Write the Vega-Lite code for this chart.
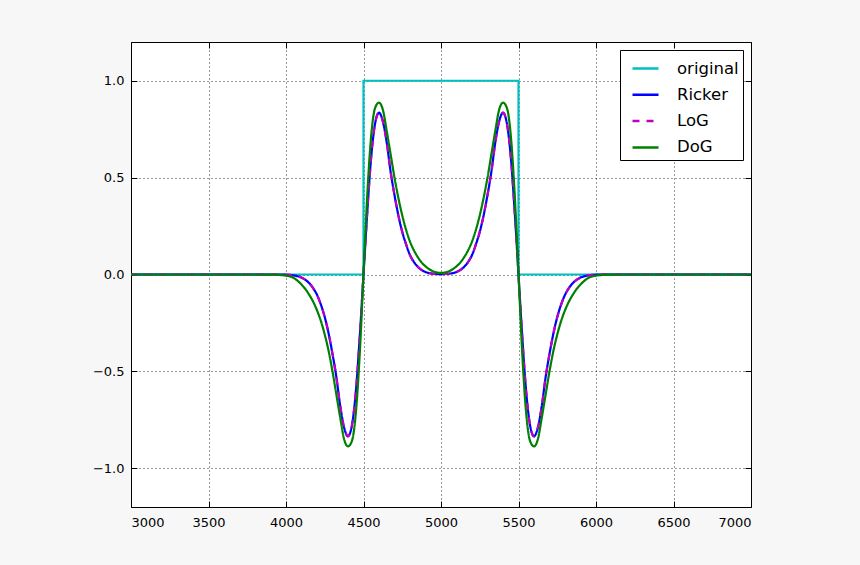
{
  "$schema": "https://vega.github.io/schema/vega-lite/v6.json",
  "width": 620,
  "height": 465,
  "autosize": {"type": "none"},
  "padding": {"left": 131, "top": 42, "right": 109, "bottom": 58},
  "background": "#f7f7f7",
  "config": {
    "view": {"stroke": "black", "strokeWidth": 1, "fill": "white"},
    "font": "DejaVu Sans",
    "axis": {"labelFont": "DejaVu Sans", "labelFontSize": 13, "labelColor": "black", "tickColor": "black", "domain": false, "title": null}
  },
  "datasets": {
    "orig": [
      {"s": "original", "x": 3000, "y": 0, "i": 1},
      {"s": "original", "x": 4500, "y": 0, "i": 2},
      {"s": "original", "x": 4500, "y": 1, "i": 3},
      {"s": "original", "x": 5500, "y": 1, "i": 4},
      {"s": "original", "x": 5500, "y": 0, "i": 5},
      {"s": "original", "x": 7000, "y": 0, "i": 6}
    ],
    "curves": [
      {"s": "Ricker", "x": 3000, "y": 0}, {"s": "Ricker", "x": 3900, "y": 0}, {"s": "Ricker", "x": 4000, "y": -0.001}, {"s": "Ricker", "x": 4050, "y": -0.005}, {"s": "Ricker", "x": 4100, "y": -0.016}, {"s": "Ricker", "x": 4150, "y": -0.045}, {"s": "Ricker", "x": 4175, "y": -0.07}, {"s": "Ricker", "x": 4200, "y": -0.105}, {"s": "Ricker", "x": 4225, "y": -0.155}, {"s": "Ricker", "x": 4250, "y": -0.22}, {"s": "Ricker", "x": 4275, "y": -0.305}, {"s": "Ricker", "x": 4300, "y": -0.41}, {"s": "Ricker", "x": 4325, "y": -0.53}, {"s": "Ricker", "x": 4350, "y": -0.68}, {"s": "Ricker", "x": 4375, "y": -0.79}, {"s": "Ricker", "x": 4400, "y": -0.835}, {"s": "Ricker", "x": 4425, "y": -0.78}, {"s": "Ricker", "x": 4450, "y": -0.61}, {"s": "Ricker", "x": 4475, "y": -0.33}, {"s": "Ricker", "x": 4500, "y": 0}, {"s": "Ricker", "x": 4525, "y": 0.33}, {"s": "Ricker", "x": 4550, "y": 0.61}, {"s": "Ricker", "x": 4575, "y": 0.78}, {"s": "Ricker", "x": 4600, "y": 0.835}, {"s": "Ricker", "x": 4625, "y": 0.79}, {"s": "Ricker", "x": 4650, "y": 0.68}, {"s": "Ricker", "x": 4675, "y": 0.53}, {"s": "Ricker", "x": 4700, "y": 0.41}, {"s": "Ricker", "x": 4725, "y": 0.305}, {"s": "Ricker", "x": 4750, "y": 0.22}, {"s": "Ricker", "x": 4775, "y": 0.155}, {"s": "Ricker", "x": 4800, "y": 0.1}, {"s": "Ricker", "x": 4825, "y": 0.065}, {"s": "Ricker", "x": 4850, "y": 0.04}, {"s": "Ricker", "x": 4900, "y": 0.013}, {"s": "Ricker", "x": 4950, "y": 0.004}, {"s": "Ricker", "x": 5000, "y": 0.002}, {"s": "Ricker", "x": 5050, "y": 0.004}, {"s": "Ricker", "x": 5100, "y": 0.013}, {"s": "Ricker", "x": 5150, "y": 0.04}, {"s": "Ricker", "x": 5175, "y": 0.065}, {"s": "Ricker", "x": 5200, "y": 0.1}, {"s": "Ricker", "x": 5225, "y": 0.155}, {"s": "Ricker", "x": 5250, "y": 0.22}, {"s": "Ricker", "x": 5275, "y": 0.305}, {"s": "Ricker", "x": 5300, "y": 0.41}, {"s": "Ricker", "x": 5325, "y": 0.53}, {"s": "Ricker", "x": 5350, "y": 0.68}, {"s": "Ricker", "x": 5375, "y": 0.79}, {"s": "Ricker", "x": 5400, "y": 0.835}, {"s": "Ricker", "x": 5425, "y": 0.78}, {"s": "Ricker", "x": 5450, "y": 0.61}, {"s": "Ricker", "x": 5475, "y": 0.33}, {"s": "Ricker", "x": 5500, "y": 0}, {"s": "Ricker", "x": 5525, "y": -0.33}, {"s": "Ricker", "x": 5550, "y": -0.61}, {"s": "Ricker", "x": 5575, "y": -0.78}, {"s": "Ricker", "x": 5600, "y": -0.835}, {"s": "Ricker", "x": 5625, "y": -0.79}, {"s": "Ricker", "x": 5650, "y": -0.68}, {"s": "Ricker", "x": 5675, "y": -0.53}, {"s": "Ricker", "x": 5700, "y": -0.41}, {"s": "Ricker", "x": 5725, "y": -0.305}, {"s": "Ricker", "x": 5750, "y": -0.22}, {"s": "Ricker", "x": 5775, "y": -0.155}, {"s": "Ricker", "x": 5800, "y": -0.105}, {"s": "Ricker", "x": 5825, "y": -0.07}, {"s": "Ricker", "x": 5850, "y": -0.045}, {"s": "Ricker", "x": 5900, "y": -0.016}, {"s": "Ricker", "x": 5950, "y": -0.005}, {"s": "Ricker", "x": 6000, "y": -0.001}, {"s": "Ricker", "x": 6100, "y": 0}, {"s": "Ricker", "x": 7000, "y": 0},
      {"s": "LoG", "x": 3000, "y": 0}, {"s": "LoG", "x": 3900, "y": 0}, {"s": "LoG", "x": 4000, "y": -0.001}, {"s": "LoG", "x": 4050, "y": -0.005}, {"s": "LoG", "x": 4100, "y": -0.016}, {"s": "LoG", "x": 4150, "y": -0.045}, {"s": "LoG", "x": 4175, "y": -0.07}, {"s": "LoG", "x": 4200, "y": -0.105}, {"s": "LoG", "x": 4225, "y": -0.155}, {"s": "LoG", "x": 4250, "y": -0.22}, {"s": "LoG", "x": 4275, "y": -0.305}, {"s": "LoG", "x": 4300, "y": -0.41}, {"s": "LoG", "x": 4325, "y": -0.53}, {"s": "LoG", "x": 4350, "y": -0.68}, {"s": "LoG", "x": 4375, "y": -0.79}, {"s": "LoG", "x": 4400, "y": -0.835}, {"s": "LoG", "x": 4425, "y": -0.78}, {"s": "LoG", "x": 4450, "y": -0.61}, {"s": "LoG", "x": 4475, "y": -0.33}, {"s": "LoG", "x": 4500, "y": 0}, {"s": "LoG", "x": 4525, "y": 0.33}, {"s": "LoG", "x": 4550, "y": 0.61}, {"s": "LoG", "x": 4575, "y": 0.78}, {"s": "LoG", "x": 4600, "y": 0.835}, {"s": "LoG", "x": 4625, "y": 0.79}, {"s": "LoG", "x": 4650, "y": 0.68}, {"s": "LoG", "x": 4675, "y": 0.53}, {"s": "LoG", "x": 4700, "y": 0.41}, {"s": "LoG", "x": 4725, "y": 0.305}, {"s": "LoG", "x": 4750, "y": 0.22}, {"s": "LoG", "x": 4775, "y": 0.155}, {"s": "LoG", "x": 4800, "y": 0.1}, {"s": "LoG", "x": 4825, "y": 0.065}, {"s": "LoG", "x": 4850, "y": 0.04}, {"s": "LoG", "x": 4900, "y": 0.013}, {"s": "LoG", "x": 4950, "y": 0.004}, {"s": "LoG", "x": 5000, "y": 0.002}, {"s": "LoG", "x": 5050, "y": 0.004}, {"s": "LoG", "x": 5100, "y": 0.013}, {"s": "LoG", "x": 5150, "y": 0.04}, {"s": "LoG", "x": 5175, "y": 0.065}, {"s": "LoG", "x": 5200, "y": 0.1}, {"s": "LoG", "x": 5225, "y": 0.155}, {"s": "LoG", "x": 5250, "y": 0.22}, {"s": "LoG", "x": 5275, "y": 0.305}, {"s": "LoG", "x": 5300, "y": 0.41}, {"s": "LoG", "x": 5325, "y": 0.53}, {"s": "LoG", "x": 5350, "y": 0.68}, {"s": "LoG", "x": 5375, "y": 0.79}, {"s": "LoG", "x": 5400, "y": 0.835}, {"s": "LoG", "x": 5425, "y": 0.78}, {"s": "LoG", "x": 5450, "y": 0.61}, {"s": "LoG", "x": 5475, "y": 0.33}, {"s": "LoG", "x": 5500, "y": 0}, {"s": "LoG", "x": 5525, "y": -0.33}, {"s": "LoG", "x": 5550, "y": -0.61}, {"s": "LoG", "x": 5575, "y": -0.78}, {"s": "LoG", "x": 5600, "y": -0.835}, {"s": "LoG", "x": 5625, "y": -0.79}, {"s": "LoG", "x": 5650, "y": -0.68}, {"s": "LoG", "x": 5675, "y": -0.53}, {"s": "LoG", "x": 5700, "y": -0.41}, {"s": "LoG", "x": 5725, "y": -0.305}, {"s": "LoG", "x": 5750, "y": -0.22}, {"s": "LoG", "x": 5775, "y": -0.155}, {"s": "LoG", "x": 5800, "y": -0.105}, {"s": "LoG", "x": 5825, "y": -0.07}, {"s": "LoG", "x": 5850, "y": -0.045}, {"s": "LoG", "x": 5900, "y": -0.016}, {"s": "LoG", "x": 5950, "y": -0.005}, {"s": "LoG", "x": 6000, "y": -0.001}, {"s": "LoG", "x": 6100, "y": 0}, {"s": "LoG", "x": 7000, "y": 0},
      {"s": "DoG", "x": 3000, "y": 0}, {"s": "DoG", "x": 3800, "y": 0}, {"s": "DoG", "x": 3900, "y": -0.0005}, {"s": "DoG", "x": 3950, "y": -0.002}, {"s": "DoG", "x": 4000, "y": -0.006}, {"s": "DoG", "x": 4050, "y": -0.018}, {"s": "DoG", "x": 4100, "y": -0.052}, {"s": "DoG", "x": 4125, "y": -0.075}, {"s": "DoG", "x": 4150, "y": -0.105}, {"s": "DoG", "x": 4175, "y": -0.14}, {"s": "DoG", "x": 4200, "y": -0.185}, {"s": "DoG", "x": 4225, "y": -0.24}, {"s": "DoG", "x": 4250, "y": -0.31}, {"s": "DoG", "x": 4275, "y": -0.395}, {"s": "DoG", "x": 4300, "y": -0.5}, {"s": "DoG", "x": 4325, "y": -0.62}, {"s": "DoG", "x": 4350, "y": -0.74}, {"s": "DoG", "x": 4375, "y": -0.85}, {"s": "DoG", "x": 4400, "y": -0.887}, {"s": "DoG", "x": 4425, "y": -0.86}, {"s": "DoG", "x": 4450, "y": -0.72}, {"s": "DoG", "x": 4475, "y": -0.42}, {"s": "DoG", "x": 4500, "y": 0}, {"s": "DoG", "x": 4525, "y": 0.42}, {"s": "DoG", "x": 4550, "y": 0.72}, {"s": "DoG", "x": 4575, "y": 0.86}, {"s": "DoG", "x": 4600, "y": 0.887}, {"s": "DoG", "x": 4625, "y": 0.85}, {"s": "DoG", "x": 4650, "y": 0.74}, {"s": "DoG", "x": 4675, "y": 0.62}, {"s": "DoG", "x": 4700, "y": 0.5}, {"s": "DoG", "x": 4725, "y": 0.395}, {"s": "DoG", "x": 4750, "y": 0.305}, {"s": "DoG", "x": 4775, "y": 0.23}, {"s": "DoG", "x": 4800, "y": 0.17}, {"s": "DoG", "x": 4825, "y": 0.125}, {"s": "DoG", "x": 4850, "y": 0.09}, {"s": "DoG", "x": 4875, "y": 0.062}, {"s": "DoG", "x": 4900, "y": 0.042}, {"s": "DoG", "x": 4950, "y": 0.016}, {"s": "DoG", "x": 5000, "y": 0.008}, {"s": "DoG", "x": 5050, "y": 0.016}, {"s": "DoG", "x": 5100, "y": 0.042}, {"s": "DoG", "x": 5125, "y": 0.062}, {"s": "DoG", "x": 5150, "y": 0.09}, {"s": "DoG", "x": 5175, "y": 0.125}, {"s": "DoG", "x": 5200, "y": 0.17}, {"s": "DoG", "x": 5225, "y": 0.23}, {"s": "DoG", "x": 5250, "y": 0.305}, {"s": "DoG", "x": 5275, "y": 0.395}, {"s": "DoG", "x": 5300, "y": 0.5}, {"s": "DoG", "x": 5325, "y": 0.62}, {"s": "DoG", "x": 5350, "y": 0.74}, {"s": "DoG", "x": 5375, "y": 0.85}, {"s": "DoG", "x": 5400, "y": 0.887}, {"s": "DoG", "x": 5425, "y": 0.86}, {"s": "DoG", "x": 5450, "y": 0.72}, {"s": "DoG", "x": 5475, "y": 0.42}, {"s": "DoG", "x": 5500, "y": 0}, {"s": "DoG", "x": 5525, "y": -0.42}, {"s": "DoG", "x": 5550, "y": -0.72}, {"s": "DoG", "x": 5575, "y": -0.86}, {"s": "DoG", "x": 5600, "y": -0.887}, {"s": "DoG", "x": 5625, "y": -0.85}, {"s": "DoG", "x": 5650, "y": -0.74}, {"s": "DoG", "x": 5675, "y": -0.62}, {"s": "DoG", "x": 5700, "y": -0.5}, {"s": "DoG", "x": 5725, "y": -0.395}, {"s": "DoG", "x": 5750, "y": -0.31}, {"s": "DoG", "x": 5775, "y": -0.24}, {"s": "DoG", "x": 5800, "y": -0.185}, {"s": "DoG", "x": 5825, "y": -0.14}, {"s": "DoG", "x": 5850, "y": -0.105}, {"s": "DoG", "x": 5875, "y": -0.075}, {"s": "DoG", "x": 5900, "y": -0.052}, {"s": "DoG", "x": 5950, "y": -0.018}, {"s": "DoG", "x": 6000, "y": -0.006}, {"s": "DoG", "x": 6050, "y": -0.002}, {"s": "DoG", "x": 6100, "y": -0.0005}, {"s": "DoG", "x": 6200, "y": 0}, {"s": "DoG", "x": 7000, "y": 0}
    ]
  },
  "layer": [
    {
      "layer": [
        {
          "data": {"name": "orig"},
          "mark": {"type": "line", "strokeWidth": 2.2, "interpolate": "linear", "clip": true},
          "encoding": {
            "x": {"field": "x", "type": "quantitative", "scale": {"domain": [3000, 7000], "nice": false, "zero": false},
                  "axis": {"orient": "bottom", "values": [3000, 3500, 4000, 4500, 5000, 5500, 6000, 6500, 7000], "format": "d", "tickSize": -6, "labelPadding": 15, "grid": true, "gridColor": "black", "gridDash": [1, 3], "gridWidth": 1, "gridOpacity": 0.8}},
            "y": {"field": "y", "type": "quantitative", "scale": {"domain": [-1.2, 1.2], "nice": false, "zero": false},
                  "axis": {"orient": "left", "values": [-1, -0.5, 0, 0.5, 1], "format": ".1f", "tickSize": -6, "labelPadding": 13, "grid": true, "gridColor": "black", "gridDash": [1, 3], "gridWidth": 1, "gridOpacity": 0.8}},
            "order": {"field": "i", "type": "quantitative"},
            "color": {"field": "s", "type": "nominal", "title": null,
                      "scale": {"domain": ["original", "Ricker", "LoG", "DoG"], "range": ["#00bfbf", "#0000ff", "#bf00bf", "#008000"]},
                      "legend": {"orient": "top-right", "offset": 8, "fillColor": "white", "strokeColor": "black", "padding": 4, "symbolOffset": 7, "cornerRadius": 0, "symbolType": "stroke", "symbolSize": 676, "symbolStrokeWidth": 2.5, "labelFontSize": 16.5, "labelFont": "DejaVu Sans", "labelColor": "black", "rowPadding": 3.3, "labelOffset": 17}},
            "strokeDash": {"field": "s", "type": "nominal", "title": null,
                           "scale": {"domain": ["original", "Ricker", "LoG", "DoG"], "range": [[1, 0], [1, 0], [7, 7], [1, 0]]}}
          }
        },
        {
          "data": {"name": "curves"},
          "mark": {"type": "line", "strokeWidth": 2.2, "interpolate": "monotone", "clip": true},
          "encoding": {
            "x": {"field": "x", "type": "quantitative"},
            "y": {"field": "y", "type": "quantitative"},
            "color": {"field": "s", "type": "nominal", "title": null},
            "strokeDash": {"field": "s", "type": "nominal", "title": null}
          }
        }
      ]
    },
    {
      "data": {"name": "orig"},
      "mark": {"type": "point", "opacity": 0},
      "encoding": {
        "x": {"field": "x", "type": "quantitative", "axis": {"orient": "top", "values": [3000, 3500, 4000, 4500, 5000, 5500, 6000, 6500, 7000], "labels": false, "tickSize": -6, "grid": false}},
        "y": {"field": "y", "type": "quantitative", "axis": {"orient": "right", "values": [-1, -0.5, 0, 0.5, 1], "labels": false, "tickSize": -6, "grid": false}}
      }
    }
  ],
  "resolve": {"axis": {"x": "independent", "y": "independent"}}
}
